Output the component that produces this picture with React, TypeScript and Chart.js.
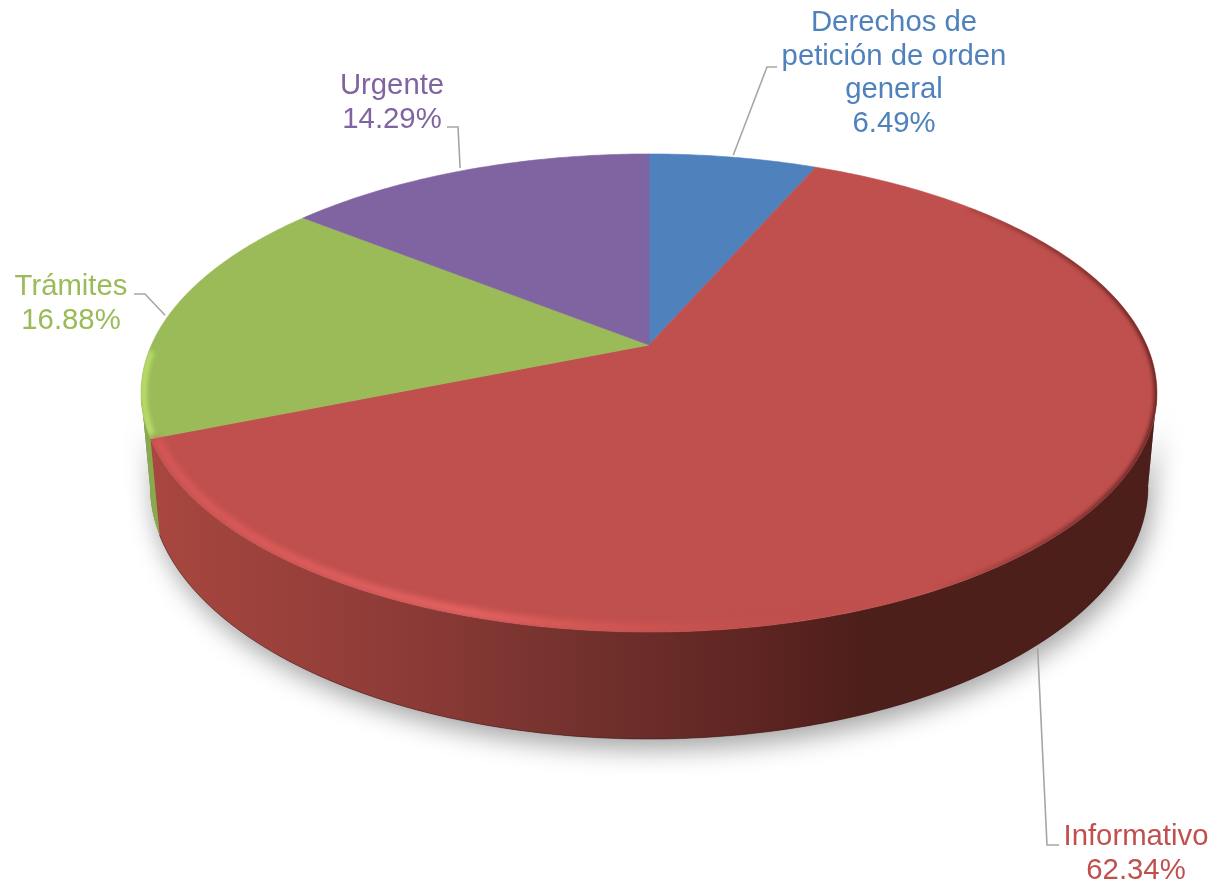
import React, { useEffect, useRef } from "react";
import { Chart, registerables } from "chart.js";

Chart.register(...registerables);

const categories = ["Derechos de petición de orden general", "Informativo", "Trámites", "Urgente"];
const shares = [6.49, 62.34, 16.88, 14.29];
const faceColors = ["#4F81BD", "#C0504D", "#9BBB59", "#8064A2"];
const labelLines = [["Derechos de", "petición de orden", "general"], ["Informativo"], ["Trámites"], ["Urgente"]];
const labelCentres = [[894, 23], [1136, 837], [71, 287], [392, 86]];
const leaderElbows = [
  [[767, 67], [777, 67]],
  [[1047, 845], [1059, 845]],
  [[145, 294], [134, 294]],
  [[458, 127], [447, 127]],
];
const leaderNudges = [[0, -2], [-10, 10], [-5, 2], [-6, -2]];
const leaderOnBase = [false, true, false, false];

// Perspective camera for the disc: unit circle (u, v) at height z (0 = top, 1 = base).
const CX = 649, CY = 345, SCALE_X = 497.6, SCALE_Y = 229.4, DEPTH = 92.3, TILT = 0.2008, RECEDE = 0.0172;
const SIL = Math.asin(TILT);

function project(angle: number, z = 0, r = 1): [number, number] {
  const u = r * Math.cos(angle), v = r * Math.sin(angle);
  const w = 1 - TILT * v + RECEDE * z;
  return [CX + (SCALE_X * u) / w, CY + (SCALE_Y * v + DEPTH * z) / w];
}

function trace(ctx: CanvasRenderingContext2D, a0: number, a1: number, z = 0, r = 1, move = true) {
  const steps = Math.max(2, Math.ceil(Math.abs(a1 - a0) * 90));
  for (let i = 0; i <= steps; i++) {
    const [x, y] = project(a0 + ((a1 - a0) * i) / steps, z, r);
    if (i === 0 && move) ctx.moveTo(x, y);
    else ctx.lineTo(x, y);
  }
}

function wallPath(ctx: CanvasRenderingContext2D, a0: number, a1: number) {
  ctx.beginPath();
  trace(ctx, a0, a1, 0);
  trace(ctx, a1, a0, 1, 1, false);
  ctx.closePath();
}

const perspectivePie = {
  id: "perspectivePie",
  beforeDatasetDraw(chart: any) {
    const ctx: CanvasRenderingContext2D = chart.ctx;
    const arcs = chart.getDatasetMeta(0).data as any[];
    const left = Math.PI - SIL;
    const TOP = -Math.PI / 2;

    // Soft ground shadow under the whole disc
    ctx.save();
    ctx.shadowColor = "rgba(0,0,0,0.36)";
    ctx.shadowBlur = 26;
    ctx.shadowOffsetY = 10;
    ctx.shadowOffsetX = 4;
    ctx.fillStyle = "#777";
    wallPath(ctx, SIL, left);
    ctx.fill();
    ctx.restore();

    // Side walls of the slices that face the viewer
    arcs.forEach((arc, i) => {
      const a0 = Math.max(arc.startAngle, SIL);
      const a1 = Math.min(arc.endAngle, left);
      if (a1 <= a0) return;
      if (i === 1) {
        const g = ctx.createLinearGradient(150, 0, 1150, 0);
        g.addColorStop(0, "#A8473F");
        g.addColorStop(0.12, "#9C413C");
        g.addColorStop(0.27, "#8B3A36");
        g.addColorStop(0.45, "#70302C");
        g.addColorStop(0.63, "#5B2320");
        g.addColorStop(0.71, "#4D1F1B");
        g.addColorStop(1, "#4D1F1B");
        ctx.fillStyle = g;
      } else {
        ctx.fillStyle = "#89A94B";
      }
      wallPath(ctx, a0, a1);
      ctx.fill();
      if (i === 1) {
        ctx.beginPath();
        trace(ctx, a0, a1, 1);
        ctx.strokeStyle = "rgba(50,12,12,0.45)";
        ctx.lineWidth = 1;
        ctx.stroke();
      }
    });

    // Top face of each slice, taken from the arc angles the controller computed
    arcs.forEach((arc) => {
      ctx.beginPath();
      ctx.moveTo(CX, CY);
      trace(ctx, arc.startAngle, arc.endAngle, 0, 1, false);
      ctx.closePath();
      ctx.fillStyle = arc.options.backgroundColor;
      ctx.fill();
      ctx.strokeStyle = arc.options.backgroundColor;
      ctx.lineWidth = 0.6;
      ctx.stroke();
    });

    // Bevel along the rim, clipped to the top face
    ctx.save();
    ctx.beginPath();
    trace(ctx, TOP, TOP + Math.PI * 2);
    ctx.closePath();
    ctx.clip();

    const red = arcs[1], green = arcs[2];
    const glow = ctx.createLinearGradient(150, 0, 860, 0);
    glow.addColorStop(0, "rgba(222,90,90,0.75)");
    glow.addColorStop(0.45, "rgba(238,104,104,0.9)");
    glow.addColorStop(0.68, "rgba(222,90,86,0.55)");
    glow.addColorStop(0.9, "rgba(200,80,76,0.08)");
    glow.addColorStop(1, "rgba(192,80,77,0)");
    ctx.filter = "blur(3px)";
    ctx.beginPath();
    trace(ctx, 0.9, red.endAngle, 0, 0.988);
    ctx.strokeStyle = glow;
    ctx.lineWidth = 8;
    ctx.stroke();

    // Front-right rim falls into shadow; alpha fades out along x at both ends
    const dark = ctx.createLinearGradient(930, 0, 1157, 0);
    dark.addColorStop(0, "rgba(70,20,20,0)");
    dark.addColorStop(0.5, "rgba(70,20,20,0.5)");
    dark.addColorStop(1, "rgba(60,15,15,0.8)");
    ctx.filter = "blur(2px)";
    ctx.beginPath();
    trace(ctx, -0.75, 1.1, 0, 1);
    ctx.strokeStyle = dark;
    ctx.lineWidth = 5;
    ctx.stroke();

    ctx.beginPath();
    trace(ctx, green.startAngle + 0.015, green.startAngle + 0.36, 0, 0.995);
    ctx.strokeStyle = "rgba(190,226,110,0.9)";
    ctx.lineWidth = 6;
    ctx.stroke();
    ctx.restore();

    return false;
  },
  afterDraw(chart: any) {
    const ctx: CanvasRenderingContext2D = chart.ctx;
    const arcs = chart.getDatasetMeta(0).data as any[];

    // Leader lines run from each slice's mid-angle on the rim to its label
    arcs.forEach((arc, i) => {
      const mid = (arc.startAngle + arc.endAngle) / 2;
      const [ax, ay] = project(mid, leaderOnBase[i] ? 1 : 0);
      ctx.beginPath();
      ctx.moveTo(ax + leaderNudges[i][0], ay + leaderNudges[i][1]);
      leaderElbows[i].forEach(([x, y]) => ctx.lineTo(x, y));
      ctx.strokeStyle = "#A6A6A6";
      ctx.lineWidth = 1.6;
      ctx.stroke();
    });

    ctx.font = '29.3px "Liberation Sans"';
    ctx.textAlign = "center";
    ctx.textBaseline = "middle";
    shares.forEach((share, i) => {
      const lines = [...labelLines[i], `${share.toFixed(2)}%`];
      ctx.fillStyle = faceColors[i];
      lines.forEach((line, n) => ctx.fillText(line, labelCentres[i][0], labelCentres[i][1] + n * 33.7));
    });
  },
};

export default function App() {
  const ref = useRef<HTMLCanvasElement>(null);
  useEffect(() => {
    const chart = new Chart(ref.current!, {
      type: "pie",
      data: {
        labels: categories,
        datasets: [{ data: shares, backgroundColor: faceColors, borderWidth: 0 }],
      },
      options: {
        animation: false,
        responsive: false,
        events: [],
        plugins: { legend: { display: false }, tooltip: { enabled: false } },
      },
      plugins: [perspectivePie],
    } as any);
    return () => chart.destroy();
  }, []);
  return (
    <div style={{ position: "fixed", left: 0, top: 0, background: "#fff" }}>
      <canvas ref={ref} width={1214} height={885} style={{ display: "block" }} />
    </div>
  );
}
